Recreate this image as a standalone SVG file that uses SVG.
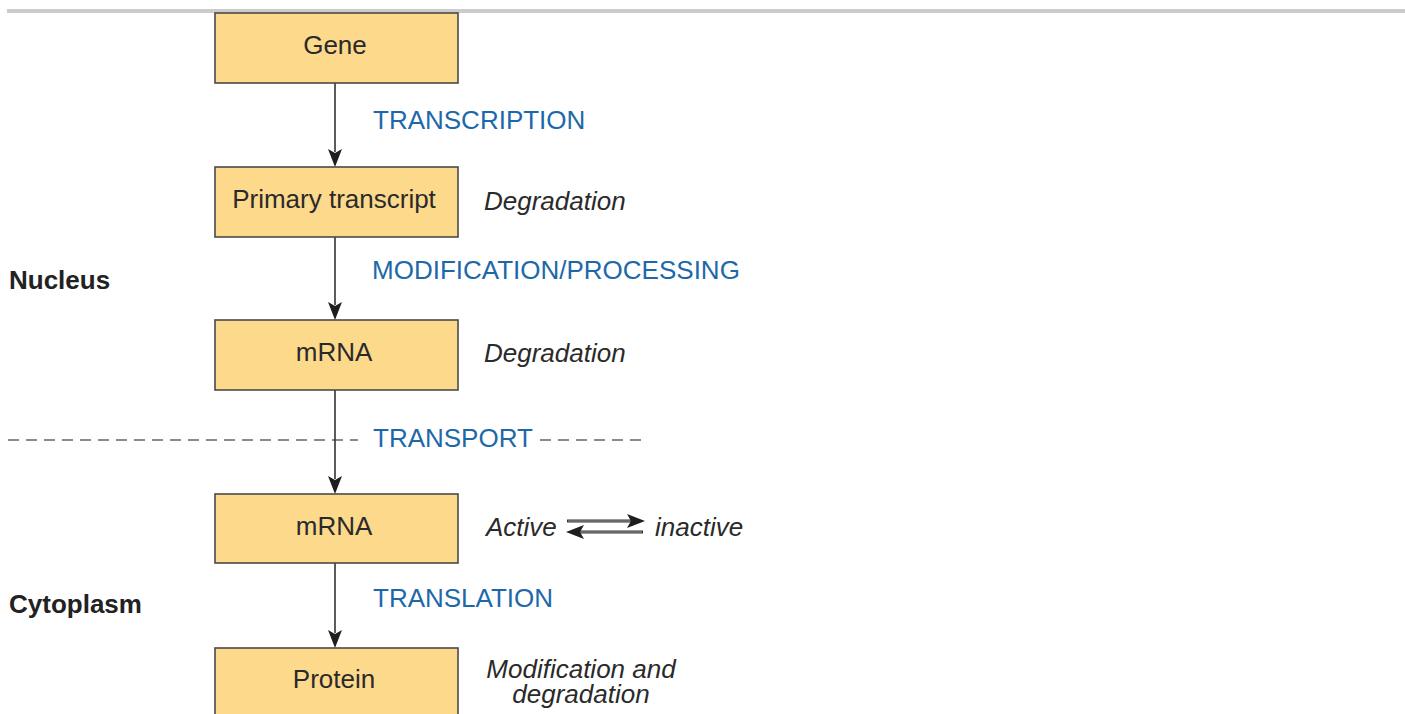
<svg xmlns="http://www.w3.org/2000/svg" width="1405" height="714" viewBox="0 0 1405 714">
<style>
.box{fill:#fdd98c;stroke:#4a4a4a;stroke-width:1.6}
.bt{font-family:"Liberation Sans",Arial,sans-serif;font-size:26px;fill:#2a2a2a;text-anchor:middle}
.blue{font-family:"Liberation Sans",Arial,sans-serif;font-size:26px;fill:#1d68aa}
.it{font-family:"Liberation Sans",Arial,sans-serif;font-size:26px;font-style:italic;fill:#2a2a2a}
.lbl{font-family:"Liberation Sans",Arial,sans-serif;font-size:26px;font-weight:bold;fill:#222}
.conn{stroke:#333;stroke-width:1.6;fill:none}
.head{fill:#1e1e1e}
.dash{stroke:#666;stroke-width:1.6;stroke-dasharray:11 7;fill:none}
</style>
<rect x="7" y="9" width="1398" height="4" fill="#cccccc"/>
<g id="labels">
<text class="lbl" x="9" y="289">Nucleus</text>
<text class="lbl" x="9" y="613">Cytoplasm</text>
</g>
<g id="connectors">
<line class="dash" x1="8" y1="440" x2="358" y2="440"/>
<line class="dash" x1="540" y1="440" x2="646" y2="440"/>
<line class="conn" x1="335" y1="83" x2="335" y2="152"/>
<path class="head" d="M328,149 L335,153 L342,149 L335,167 Z"/>
<line class="conn" x1="335" y1="237" x2="335" y2="305"/>
<path class="head" d="M328,302 L335,306 L342,302 L335,320 Z"/>
<line class="conn" x1="335" y1="390" x2="335" y2="479"/>
<path class="head" d="M328,476 L335,480 L342,476 L335,494 Z"/>
<line class="conn" x1="335" y1="563" x2="335" y2="633"/>
<path class="head" d="M328,630 L335,634 L342,630 L335,648 Z"/>
<g id="equilibrium">
<line x1="567" y1="521" x2="632" y2="521" stroke="#333" stroke-width="3"/>
<line x1="568" y1="521" x2="632" y2="521" stroke="#bbb" stroke-width="0.8"/>
<path class="head" d="M627,514 L645,521 L627,528 L631,521 Z"/>
<line x1="580" y1="532" x2="643" y2="532" stroke="#333" stroke-width="3"/>
<line x1="580" y1="532" x2="642" y2="532" stroke="#bbb" stroke-width="0.8"/>
<path class="head" d="M584,525 L566,532 L584,539 L580,532 Z"/>
</g>
</g>
<g id="gene"><rect class="box" x="215" y="13" width="243" height="70"/><text class="bt" x="335" y="54">Gene</text></g>
<g id="primary"><rect class="box" x="215" y="167" width="243" height="70"/><text class="bt" x="334" y="208">Primary transcript</text></g>
<g id="mrna1"><rect class="box" x="215" y="320" width="243" height="70"/><text class="bt" x="334" y="361">mRNA</text></g>
<g id="mrna2"><rect class="box" x="215" y="494" width="243" height="69"/><text class="bt" x="334" y="535">mRNA</text></g>
<g id="protein"><rect class="box" x="215" y="648" width="243" height="70"/><text class="bt" x="334" y="688">Protein</text></g>
<g id="steps">
<text class="blue" x="373" y="129">TRANSCRIPTION</text>
<text class="blue" x="372" y="279">MODIFICATION/PROCESSING</text>
<text class="blue" x="373" y="447">TRANSPORT</text>
<text class="blue" x="373" y="607">TRANSLATION</text>
</g>
<g id="notes">
<text class="it" x="484" y="210">Degradation</text>
<text class="it" x="484" y="362">Degradation</text>
<text class="it" x="486" y="536">Active</text>
<text class="it" x="655" y="536">inactive</text>
<text class="it" x="581" y="678" text-anchor="middle">Modification and<tspan x="581" dy="25">degradation</tspan></text>
</g>
</svg>
